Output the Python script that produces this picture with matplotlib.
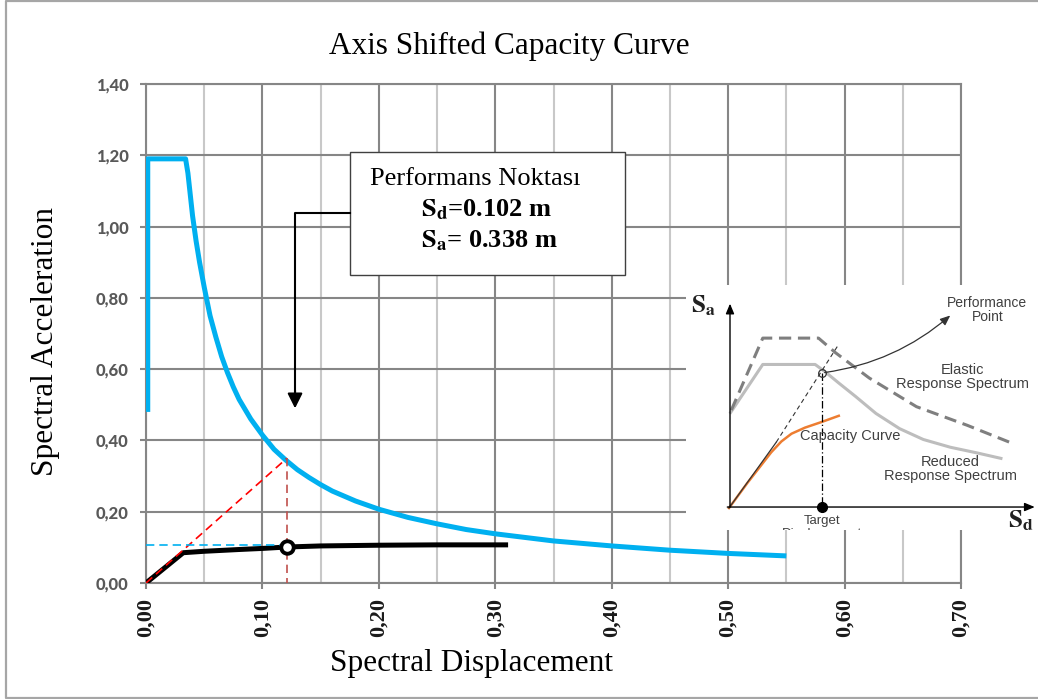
import matplotlib
matplotlib.use("Agg")
import matplotlib.pyplot as plt
from matplotlib.lines import Line2D
from matplotlib.patches import Rectangle

# ---------------- data ----------------
sd_demand = [0.0015, 0.0015, 0.034, 0.036, 0.038, 0.040, 0.043, 0.046, 0.050, 0.055,
             0.060, 0.065, 0.070, 0.075, 0.080, 0.090, 0.100, 0.110, 0.120, 0.130,
             0.140, 0.150, 0.160, 0.180, 0.200, 0.225, 0.250, 0.275, 0.300, 0.350,
             0.400, 0.450, 0.500, 0.550]
sa_demand = [0.48, 1.19, 1.19, 1.15, 1.09, 1.03, 0.96, 0.90, 0.83, 0.75,
             0.69, 0.635, 0.59, 0.55, 0.515, 0.46, 0.415, 0.375, 0.345, 0.318,
             0.296, 0.276, 0.258, 0.230, 0.207, 0.184, 0.166, 0.150, 0.138, 0.118,
             0.104, 0.092, 0.083, 0.076]

sd_capacity = [0.0, 0.032, 0.050, 0.080, 0.100, 0.121, 0.150, 0.200, 0.250, 0.311]
sa_capacity = [0.0, 0.085, 0.089, 0.094, 0.097, 0.101, 0.104, 0.106, 0.107, 0.107]

perf_sd = 0.121
perf_sa = 0.101
red_line_sd = [0.0, 0.121]
red_line_sa = [0.0, 0.350]
blue_dash_sa = 0.108

x_ticks = [0.0, 0.1, 0.2, 0.3, 0.4, 0.5, 0.6, 0.7]
x_tick_labels = ["0,00", "0,10", "0,20", "0,30", "0,40", "0,50", "0,60", "0,70"]
y_ticks = [0.0, 0.2, 0.4, 0.6, 0.8, 1.0, 1.2, 1.4]
y_tick_labels = ["0,00", "0,20", "0,40", "0,60", "0,80", "1,00", "1,20", "1,40"]
x_minor = [0.05, 0.15, 0.25, 0.35, 0.45, 0.55, 0.65]

# inset schematic (its own arbitrary frame)
ins_elastic_x = [152, 245, 410, 460, 560, 700, 850, 975]
ins_elastic_y = [385, 172, 172, 215, 290, 375, 430, 480]
ins_reduced_x = [150, 245, 400, 430, 470, 520, 580, 650, 720, 800, 880, 950]
ins_reduced_y = [392, 250, 250, 272, 305, 345, 395, 440, 472, 495, 512, 528]
ins_cap_x = [145, 200, 270, 300, 330, 370, 420, 470]
ins_cap_y = [675, 600, 510, 478, 455, 437, 420, 402]
ins_pp = (420, 275)

W, H = 1038, 699
fig = plt.figure(figsize=(W / 100, H / 100), dpi=100)
fig.patch.set_facecolor("white")


def fx(x):
    return x / W


def fy(y):
    return 1 - y / H


GRID = "#868686"
MINOR = "#C8C8C8"

x0, x1 = 146, 961
y0, y1 = 583, 84
ax = fig.add_axes([fx(x0), fy(y0), (x1 - x0) / W, (y0 - y1) / H])
ax.set_xlim(0, 0.7)
ax.set_ylim(0, 1.4)
ax.set_xticks(x_ticks)
ax.set_xticklabels(x_tick_labels)
ax.set_yticks(y_ticks)
ax.set_yticklabels(y_tick_labels)
ax.set_xticks(x_minor, minor=True)
ax.grid(which="major", color=GRID, lw=1.5, zorder=0)
ax.grid(which="minor", axis="x", color=MINOR, lw=1.5, zorder=0)
ax.set_axisbelow(True)
for s in ax.spines.values():
    s.set_color(GRID)
    s.set_linewidth(1.5)
ax.tick_params(axis="y", which="major", length=4.5, width=1.5, color=GRID, pad=8,
               labelsize=12, labelcolor="#595959")
ax.tick_params(axis="x", which="major", length=4, width=1.5, color=GRID, pad=7,
               labelsize=16, labelcolor="#1a1a1a", labelrotation=90)
ax.tick_params(axis="x", which="minor", length=0)
for lab in ax.get_yticklabels():
    lab.set_fontfamily("Lato")
    lab.set_fontweight("black")
for lab in ax.get_xticklabels():
    lab.set_fontfamily("Liberation Serif")
    lab.set_fontweight("bold")

# curves
ax.plot(sd_demand, sa_demand, color="#00B0F0", lw=3.6, solid_joinstyle="round",
        solid_capstyle="butt", zorder=3)
ax.plot(sd_capacity, sa_capacity, color="black", lw=3.6, solid_joinstyle="round",
        solid_capstyle="butt", zorder=4)
ax.plot(red_line_sd, red_line_sa, color="#FF0000", lw=1.2, ls=(0, (5, 3)), zorder=5)
ax.plot([perf_sd, perf_sd], [red_line_sa[1], 0.0], color="#C0504D", lw=1.2,
        ls=(0, (5, 3)), zorder=5)
ax.plot([0.0, perf_sd], [blue_dash_sa, blue_dash_sa], color="#00B0F0", lw=1.2,
        ls=(0, (5, 3)), zorder=5)
ax.plot([perf_sd], [perf_sa], marker="o", ms=9, mfc="white", mec="black", mew=2.8,
        zorder=6)

# annotation box
box = Rectangle((0.175, 0.864), 0.4115 - 0.175, 1.210 - 0.864, facecolor="white",
                edgecolor="#404040", lw=1.0, zorder=7)
ax.add_patch(box)
ax.plot([0.175, 0.128, 0.128], [1.037, 1.037, 0.53], color="black", lw=1.5, zorder=7)
ax.annotate("", xy=(0.128, 0.49), xytext=(0.128, 0.54),
            arrowprops=dict(arrowstyle="-|>,head_length=0.9,head_width=0.45",
                            color="black", lw=1.5, shrinkA=0, shrinkB=0), zorder=7)

fig.text(fx(370), fy(185), "Performans Noktası", family="Liberation Serif",
         fontsize=19, ha="left", va="baseline", zorder=10)
fig.text(fx(421), fy(216), r"$\mathbf{S_d}$=0.102 m", family="Liberation Serif",
         fontsize=19, fontweight="bold", math_fontfamily="stix", ha="left",
         va="baseline", zorder=10)
fig.text(fx(421), fy(247), r"$\mathbf{S_a}$= 0.338 m", family="Liberation Serif",
         fontsize=19, fontweight="bold", math_fontfamily="stix", ha="left",
         va="baseline", zorder=10)

# titles
fig.text(fx(509), fy(54), "Axis Shifted Capacity Curve", family="Liberation Serif",
         fontsize=22.5, ha="center", va="baseline")
fig.text(fx(46), fy(342), "Spectral Acceleration", family="Liberation Serif",
         fontsize=22.5, ha="center", va="center", rotation=90)
fig.text(fx(471), fy(663), "Spectral Displacement", family="Liberation Serif",
         fontsize=22.5, ha="center", va="center")

# outer frame
fig.add_artist(Line2D([1.0, fx(6), fx(6), 1.0], [fy(1), fy(1), fy(697.5), fy(697.5)],
                      transform=fig.transFigure, color="#A6A6A6", lw=1.6))

# ---------------- inset schematic ----------------
S = 2.96
ix0, ix1, iy0, iy1 = 686, 1038, 285, 530
ins = fig.add_axes([fx(ix0), fy(iy1), (ix1 - ix0) / W, (iy1 - iy0) / H])
ins.set_xlim((ix0 - 680) * S, (ix1 - 680) * S)
ins.set_ylim((iy1 - 280) * S, (iy0 - 280) * S)
ins.set_facecolor("white")
for s in ins.spines.values():
    s.set_visible(False)
ins.set_xticks([])
ins.set_yticks([])

# axes arrows
ins.annotate("", xy=(148, 70), xytext=(148, 672),
             arrowprops=dict(arrowstyle="-|>,head_length=0.6,head_width=0.25",
                             color="black", lw=1.0, shrinkA=0, shrinkB=0))
ins.annotate("", xy=(1050, 672), xytext=(140, 672),
             arrowprops=dict(arrowstyle="-|>,head_length=0.6,head_width=0.25",
                             color="black", lw=1.0, shrinkA=0, shrinkB=0))

ins.plot(ins_reduced_x, ins_reduced_y, color="#BDBDBD", lw=2.2, solid_joinstyle="round")
ins.plot(ins_elastic_x, ins_elastic_y, color="#7F7F7F", lw=2.2, ls=(0, (4, 2.2)))
ins.plot(ins_cap_x, ins_cap_y, color="#ED7D31", lw=1.8, solid_joinstyle="round")
ins.plot([145, 285], [675, 480], color="#333333", lw=0.9)
ins.plot([285, 470], [480, 190], color="#333333", lw=0.8, ls=(0, (4, 3)))
ins.plot([ins_pp[0], ins_pp[0]], [ins_pp[1], 672], color="black", lw=0.9,
         ls=(0, (6, 2, 1, 2)))
ins.plot([ins_pp[0]], [672], marker="o", ms=7, color="black")
ins.plot([ins_pp[0]], [ins_pp[1]], marker="o", ms=5.5, mfc="none", mec="#333333", mew=0.9)
ins.annotate("", xy=(800, 105), xytext=ins_pp,
             arrowprops=dict(arrowstyle="-|>,head_length=0.6,head_width=0.25",
                             color="#333333", lw=0.9, shrinkA=2, shrinkB=0,
                             connectionstyle="arc3,rad=0.15"))

tc = "#404040"
ins.text(910, 88, "Performance\nPoint", ha="center", va="center", fontsize=10,
         family="Liberation Sans", color=tc, linespacing=1.0)
ins.text(835, 287, "Elastic\nResponse Spectrum", ha="center", va="center",
         fontsize=10.5, family="Liberation Sans", color=tc, linespacing=1.05)
ins.text(505, 462, "Capacity Curve", ha="center", va="center", fontsize=10.5,
         family="Liberation Sans", color=tc)
ins.text(800, 560, "Reduced\nResponse Spectrum", ha="center", va="center",
         fontsize=10.5, family="Liberation Sans", color=tc, linespacing=0.95)
ins.text(420, 712, "Target", ha="center", va="center", fontsize=9.5,
         family="Liberation Sans", color=tc)
ins.text(420, 752, "Displacement", ha="center", va="center", fontsize=9.5,
         family="Liberation Sans", color=tc, clip_on=True)
ins.text(70, 75, r"$\mathbf{S_a}$", ha="center", va="center", fontsize=18,
         math_fontfamily="stix", color="#222222")
ins.text(1008, 712, r"$\mathbf{S_d}$", ha="center", va="center", fontsize=18,
         math_fontfamily="stix", color="#222222")

fig.savefig("out.png", dpi=100, facecolor="white")
